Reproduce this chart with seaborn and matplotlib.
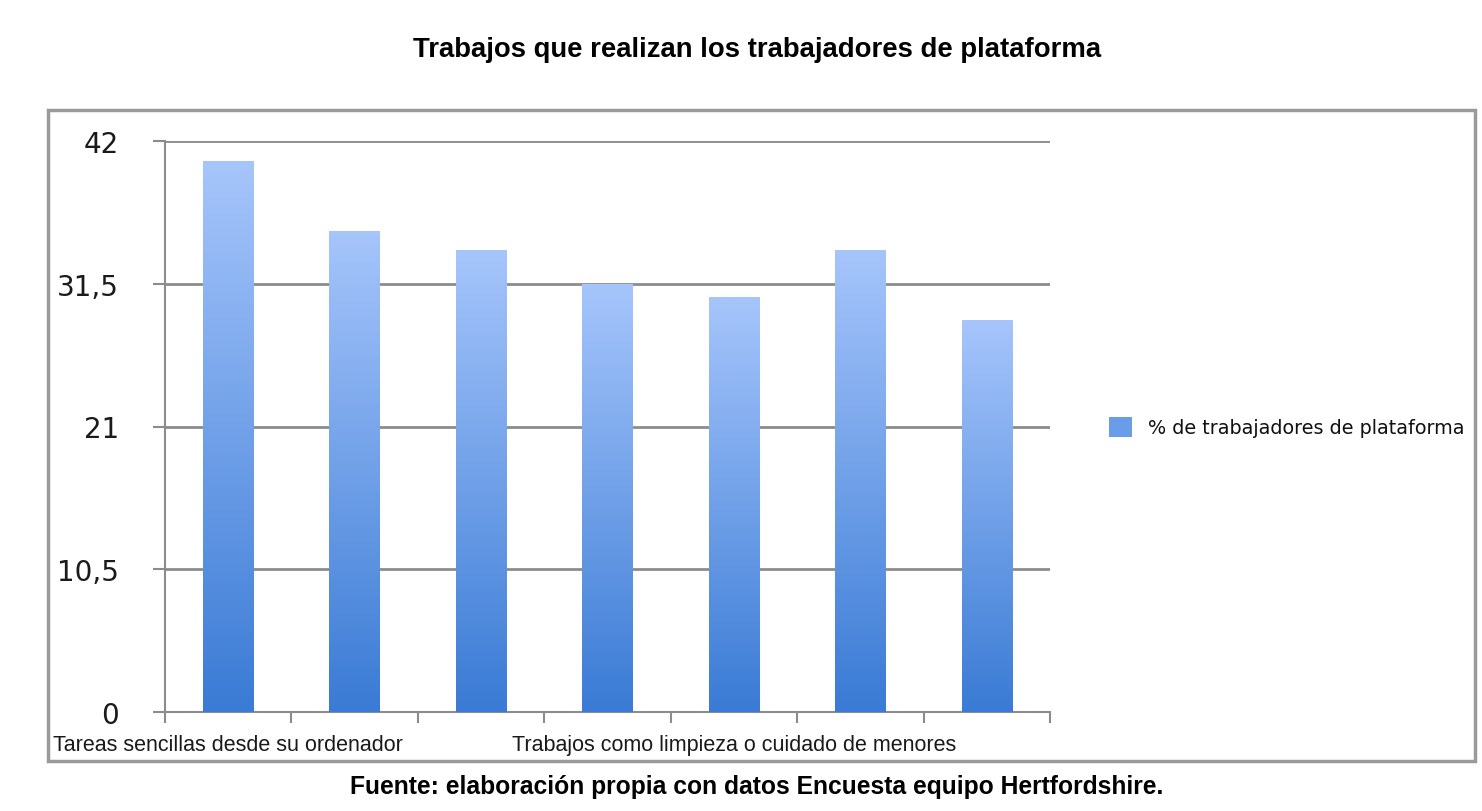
import numpy as np
import pandas as pd
import seaborn as sns
import matplotlib.pyplot as plt
from matplotlib import font_manager
from matplotlib.colors import LinearSegmentedColormap
from matplotlib.patches import Rectangle, Patch

# Data
categories = ['Tareas sencillas desde su ordenador', 'Categoría 2', 'Categoría 3', 'Categoría 4',
              'Trabajos como limpieza o cuidado de menores', 'Categoría 6', 'Categoría 7']
shown_labels = ['Tareas sencillas desde su ordenador', '', '', '',
                'Trabajos como limpieza o cuidado de menores', '', '']
values = [40.5, 35.4, 34.0, 31.5, 30.5, 34.0, 28.8]
y_ticks = [0, 10.5, 21, 31.5, 42]
y_tick_labels = ['0', '10,5', '21', '31,5', '42']
series_name = '% de trabajadores de plataforma'

sns.set_theme(style='white')
plt.rcParams['text.color'] = '#111111'

names = {f.name for f in font_manager.fontManager.ttflist}
narrow = 'Liberation Sans Narrow' if 'Liberation Sans Narrow' in names else 'Liberation Sans'

W, H = 1482, 812
fig = plt.figure(figsize=(W / 100, H / 100), dpi=100)
ax = fig.add_axes([165 / W, 1 - 713 / H, 885 / W, 571 / H])

df = pd.DataFrame({'cat': categories, 'val': values})
sns.barplot(data=df, x='cat', y='val', color='#5b8fe0', width=0.4, ax=ax)

# vertical gradient fill on each bar
cmap = LinearSegmentedColormap.from_list('bar', ['#3a7bd5', '#a6c5fb'])
grad = np.linspace(1, 0, 256).reshape(-1, 1)
for p in ax.patches:
    x0, w, h = p.get_x(), p.get_width(), p.get_height()
    im = ax.imshow(grad, extent=[x0, x0 + w, 0, h], aspect='auto', cmap=cmap,
                   vmin=0, vmax=1, zorder=3)
    im.set_clip_path(p)
    p.set_facecolor('none')
    p.set_edgecolor('none')

ax.set_xlim(-0.5, len(categories) - 0.5)
ax.set_ylim(0, 42)
ax.set_yticks(y_ticks)
ax.set_yticklabels(y_tick_labels, fontsize=20, family='DejaVu Sans', color='#1a1a1a')
ax.set_xticks(range(len(categories)))
ax.set_xticklabels(shown_labels, fontsize=15.5, family=narrow, color='#1a1a1a')
ax.set_xticks(np.arange(-0.5, len(categories)), minor=True)
ax.tick_params(axis='x', which='major', length=0, pad=16, bottom=True)
ax.tick_params(axis='x', which='minor', length=8, width=1.5, color='#8c8c8c',
               direction='out', bottom=True)
ax.tick_params(axis='y', length=9, width=1.5, color='#8c8c8c', direction='out', pad=24, left=True)
ax.set_xlabel('')
ax.set_ylabel('')

ax.grid(axis='y', color='#8c8c8c', linewidth=2, zorder=1)
ax.set_axisbelow(True)
for s in ['top', 'right']:
    ax.spines[s].set_visible(False)
for s in ['left', 'bottom']:
    ax.spines[s].set_color('#8c8c8c')
    ax.spines[s].set_linewidth(1.5)

# outer frame, title, source
fig.patches.append(Rectangle((48 / W, 1 - 762 / H), (1475 - 48) / W, (762 - 111) / H,
                             transform=fig.transFigure, fill=False,
                             edgecolor='#9a9a9a', linewidth=2.5))
fig.text(757 / W, 1 - 50 / H, 'Trabajos que realizan los trabajadores de plataforma',
         ha='center', va='center', fontsize=19.8, fontweight='bold', family=narrow,
         color='#000000')
fig.text(757 / W, 1 - 787 / H, 'Fuente: elaboración propia con datos Encuesta equipo Hertfordshire.',
         ha='center', va='center', fontsize=17.7, fontweight='bold', family=narrow,
         color='#000000')

fig.legend(handles=[Patch(facecolor='#6a9de8', edgecolor='none', label=series_name)],
           loc='center left', bbox_to_anchor=(1092 / W, 1 - 428 / H), frameon=False,
           fontsize=13.8, handlelength=1.2, handleheight=1.2, handletextpad=0.8)

fig.savefig('out.png', dpi=100)
